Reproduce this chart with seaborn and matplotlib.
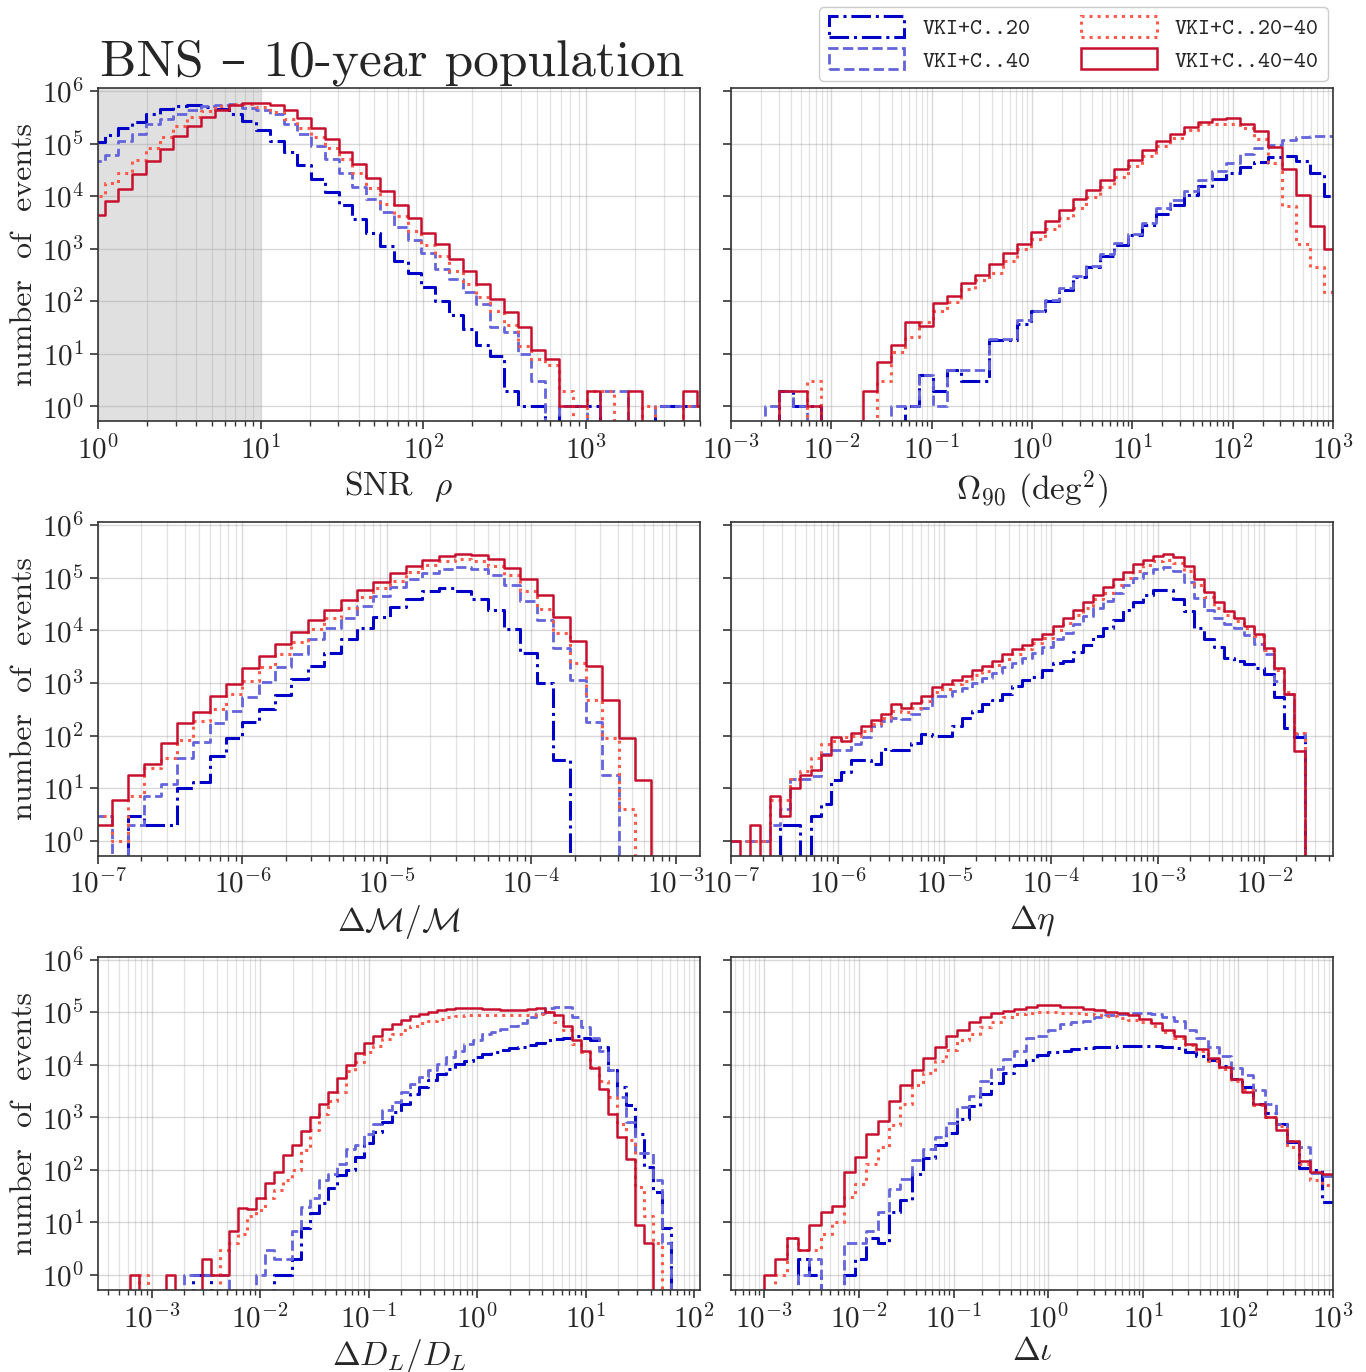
import numpy as np
import matplotlib
matplotlib.use("Agg")
import matplotlib.pyplot as plt
import matplotlib.patches as mpatches
from matplotlib.ticker import LogLocator, NullLocator, NullFormatter
import seaborn as sns

# ---------------------------------------------------------------------------
# data: counts per log-spaced bin
# bin ranges are given as (log10 low edge, log10 high edge, number of bins)
# ---------------------------------------------------------------------------
labels = ["VKI+C..20", "VKI+C..40", "VKI+C..20-40", "VKI+C..40-40"]
colors = ["#0000c8", "#6464dc", "#ff5a4a", "#c8102e"]
styles = ["-.", "--", ":", "-"]
widths = [2.2, 2.0, 2.2, 1.8]

# SNR
snr_bins = (-0.0436, 3.7634, 45)
snr_20 = [105000, 145000, 200000, 260000, 360000, 450000, 520000, 540000, 500000, 450000,
          360000, 270000, 180000, 112000, 68000, 39000, 21000, 11700, 6900, 3600,
          2000, 1100, 590, 340, 186, 102, 54, 30, 15, 9,
          2, 1, 1, 0, 1, 1, 1, 0, 0, 0, 0, 1, 1, 1, 1]
snr_40 = [47000, 60000, 112000, 150000, 230000, 290000, 360000, 430000, 510000, 540000,
          560000, 480000, 430000, 360000, 240000, 150000, 91000, 50000, 27500, 15000,
          8700, 4900, 2600, 1450, 830, 410, 260, 150, 89, 32,
          26, 10, 3, 0, 1, 1, 0, 2, 2, 0, 0, 1, 1, 1, 1]
snr_2040 = [10000, 18000, 28000, 48000, 83000, 135000, 214000, 316000, 420000, 510000,
            560000, 560000, 500000, 400000, 295000, 200000, 132000, 83000, 50000, 28000,
            14000, 7100, 4100, 2200, 1150, 710, 380, 210, 120, 66,
            35, 14, 8, 6, 2, 0, 2, 2, 0, 0, 1, 0, 0, 1, 1]
snr_4040 = [4400, 8100, 13800, 26000, 46000, 79000, 138000, 220000, 320000, 430000,
            540000, 590000, 590000, 540000, 430000, 310000, 200000, 120000, 69000, 41000,
            22000, 12300, 6900, 3900, 2000, 1200, 630, 370, 210, 110,
            62, 32, 12, 8, 1, 1, 2, 0, 0, 2, 0, 0, 0, 2, 1]

# sky localisation Omega_90
omega_bins = (-3.073, 3.047, 44)
omega_20 = [0, 0, 0, 0, 2, 1, 1, 0, 0, 0,
            0, 0, 0, 1, 4, 2, 5, 3, 3, 18,
            18, 37, 66, 100, 160, 285, 440, 730, 1180, 1800,
            2800, 4500, 6700, 10700, 15500, 21500, 28000, 35000, 45000, 55000,
            57000, 47000, 28000, 10000]
omega_40 = [0, 0, 0, 1, 2, 1, 0, 0, 0, 0,
            0, 0, 1, 1, 4, 1, 5, 5, 5, 19,
            19, 43, 66, 105, 180, 300, 470, 780, 1300, 1900,
            3100, 6000, 8300, 12400, 20000, 30000, 43000, 62000, 82000, 95000,
            118000, 132000, 140000, 140000]
omega_2040 = [0, 0, 0, 0, 0, 0, 3, 0, 0, 0,
              0, 3, 11, 21, 40, 66, 95, 170, 250, 350,
              590, 980, 1500, 2400, 3900, 6000, 9500, 14800, 23000, 37000,
              57000, 89000, 130000, 180000, 230000, 230000, 230000, 200000, 120000, 43000,
              6500, 1200, 440, 147]
omega_4040 = [0, 0, 0, 0, 2, 2, 1, 0, 0, 0,
              2, 7, 15, 40, 34, 91, 127, 218, 314, 520,
              815, 1250, 2080, 3300, 5400, 8700, 13200, 20600, 33000, 49000,
              74000, 110000, 155000, 210000, 260000, 290000, 300000, 240000, 170000, 85000,
              33000, 10400, 2700, 970]

# chirp mass error
dm_bins = (-7.0193, -2.7163, 38)
dm_20 = [0, 0, 3, 2, 2, 10, 13, 41, 91, 185,
         315, 590, 1170, 2100, 3800, 6800, 11200, 17800, 28000, 40000,
         56000, 63000, 56000, 40000, 24000, 10500, 3800, 990, 35, 0,
         0, 0, 0, 0, 0, 0, 0, 0]
dm_40 = [3, 0, 2, 7, 12, 37, 77, 170, 295, 540,
         1060, 2040, 3600, 6800, 11000, 17400, 29000, 45000, 66000, 93000,
         124000, 150000, 160000, 150000, 115000, 73000, 36000, 15500, 4700, 1120,
         185, 18, 0, 0, 0, 0, 0, 0]
dm_2040 = [3, 1, 7, 24, 37, 84, 190, 315, 610, 1090,
           2000, 3600, 6000, 10700, 17400, 27000, 43000, 63000, 89000, 128000,
           174000, 210000, 224000, 210000, 170000, 115000, 56000, 26000, 8900, 2450,
           475, 91, 4, 0, 0, 0, 0, 0]
dm_4040 = [2, 6, 18, 29, 71, 170, 280, 565, 970, 1900,
           3200, 5600, 9400, 15800, 24000, 38000, 58000, 84000, 123000, 170000,
           220000, 260000, 290000, 275000, 225000, 155000, 93000, 47000, 18200, 6300,
           2100, 475, 89, 14, 0, 0, 0, 0]

# symmetric mass ratio error (last bin is empty)
eta_bins = (-7.0095, -1.5285, 58)
eta_20 = [0, 0, 0, 0, 0, 2, 2, 0, 3, 5,
          14, 20, 35, 35, 29, 55, 52, 52, 73, 108,
          99, 99, 152, 220, 295, 390, 470, 630, 870, 1120,
          1300, 1740, 2450, 2600, 3900, 5300, 7800, 11000, 16000, 24000,
          34000, 47000, 59000, 60000, 40000, 23000, 11000, 6800, 4800, 3000,
          2600, 2250, 1950, 1500, 530, 140, 92, 0]
eta_40 = [1, 1, 1, 1, 2, 4, 15, 15, 17, 44,
          52, 52, 69, 92, 152, 190, 220, 205, 255, 340,
          565, 565, 710, 815, 1000, 1260, 1580, 2000, 2450, 3000,
          3800, 4800, 6800, 9100, 13500, 18600, 27000, 37000, 52000, 73000,
          100000, 124000, 150000, 160000, 134000, 84000, 42000, 24000, 17000, 13500,
          11200, 8300, 5400, 3600, 1090, 630, 107, 0]
eta_2040 = [1, 1, 1, 1, 6, 6, 15, 21, 38, 69,
            79, 92, 99, 122, 165, 220, 295, 275, 340, 445,
            660, 760, 940, 1090, 1420, 1700, 2200, 2800, 3500, 4350,
            5850, 7300, 10000, 14000, 20000, 27000, 39000, 52000, 73000, 100000,
            134000, 174000, 210000, 220000, 190000, 134000, 74000, 43000, 27000, 19500,
            15000, 11200, 7800, 4150, 1740, 660, 110, 0]
eta_4040 = [1, 0, 2, 0, 7, 3, 10, 18, 22, 42,
            92, 79, 114, 152, 195, 255, 390, 340, 425, 565,
            850, 940, 1120, 1350, 1740, 2100, 2600, 3500, 4350, 5200,
            7000, 8700, 12000, 17400, 24000, 34000, 48000, 66000, 93000, 128000,
            180000, 220000, 265000, 290000, 245000, 166000, 93000, 54000, 34000, 23000,
            17000, 12000, 8700, 4550, 1900, 610, 51, 0]

# luminosity distance error
dl_bins = (-3.535, 2.0394, 67)
dl_20 = [0, 0, 0, 0, 0, 0, 0, 0, 0, 0,
         0, 1, 1, 0, 0, 0, 0, 0, 0, 0,
         1, 1, 2, 8, 15, 23, 46, 79, 98, 177,
         325, 525, 815, 1260, 1820, 2750, 3800, 5200, 6800, 8300,
         10500, 12000, 14000, 15800, 17400, 19000, 21000, 22000, 24000, 26000,
         29000, 31000, 32000, 34500, 32000, 30000, 22000, 8100, 3800, 1700,
         490, 114, 38, 8, 0, 0, 0]
dl_40 = [0, 0, 0, 0, 0, 0, 0, 0, 0, 0,
         1, 1, 1, 1, 1, 0, 0, 0, 1, 3,
         2, 2, 7, 20, 29, 63, 83, 132, 245, 295,
         490, 760, 1350, 1950, 3000, 4350, 5850, 8100, 10500, 14000,
         18600, 25000, 30000, 38000, 42000, 48000, 54000, 62000, 81000, 96000,
         120000, 128000, 124000, 81000, 52000, 32000, 18600, 7800, 2450, 815,
         205, 210, 63, 4, 0, 0, 0]
dl_2040 = [0, 0, 0, 0, 0, 1, 0, 0, 0, 0,
           0, 0, 0, 0, 3, 4, 6, 13, 17, 29,
           41, 63, 98, 235, 565, 1170, 2040, 3000, 7500, 11500,
           17400, 23000, 31000, 38000, 45000, 54000, 62000, 69000, 74000, 81000,
           84000, 87000, 87000, 87000, 87000, 87000, 87000, 87000, 87000, 92000,
           99000, 65000, 45000, 25000, 17400, 9100, 5000, 2450, 760, 365,
           48, 13, 4, 0, 0, 0, 0]
dl_4040 = [0, 0, 0, 0, 1, 0, 0, 0, 1, 0,
           0, 0, 2, 1, 1, 7, 19, 18, 29, 57,
           91, 190, 295, 550, 1020, 1820, 3000, 5600, 9800, 16600,
           26000, 36000, 48000, 60000, 71000, 83000, 93000, 102000, 110000, 115000,
           120000, 120000, 120000, 115000, 113000, 110000, 110000, 112000, 115000, 118000,
           99000, 87000, 54000, 29000, 18600, 8700, 3400, 1150, 425, 158,
           9, 4, 0, 0, 0, 0, 0]

# inclination error (first bin is empty)
iota_bins = (-3.12, 3.0, 51)
iota_20 = [0, 0, 0, 0, 2, 1, 0, 0, 1, 2, 5,
           4, 16, 27, 83, 165, 295, 505, 940, 1620, 2800,
           4500, 6900, 9800, 12400, 15000, 17400, 18600, 20000, 21000, 22000,
           22000, 22500, 22500, 22500, 22500, 22000, 21000, 17400, 14400, 12400,
           9300, 5400, 3800, 1770, 1200, 740, 340, 107, 98, 25]
iota_40 = [0, 0, 0, 0, 1, 2, 0, 0, 4, 4, 7,
           16, 44, 66, 152, 245, 425, 780, 1580, 2570, 5000,
           8300, 13000, 18600, 32000, 34500, 46000, 59000, 65000, 69000, 81000,
           87000, 93000, 96000, 96000, 93000, 81000, 68000, 45000, 32000, 22000,
           14400, 8700, 6300, 3250, 1770, 760, 355, 275, 88, 76]
iota_2040 = [0, 0, 1, 5, 3, 3, 6, 10, 31, 55, 132,
             275, 710, 1820, 4050, 6900, 12000, 19000, 30000, 39000, 52000,
             65000, 81000, 91000, 96000, 100000, 100000, 96000, 96000, 93000, 87000,
             84000, 77000, 71000, 65000, 54000, 42000, 32000, 24000, 18600, 12000,
             8300, 5000, 3250, 1700, 1020, 675, 275, 132, 63, 51]
iota_4040 = [0, 1, 2, 5, 3, 9, 16, 21, 91, 177, 475,
             850, 2040, 4050, 7800, 13500, 22000, 34500, 46000, 65000, 81000,
             96000, 107000, 115000, 128000, 134000, 134000, 128000, 124000, 115000, 110000,
             102000, 96000, 87000, 74000, 62000, 45000, 36000, 25000, 20000, 13500,
             9100, 5400, 3000, 1770, 1020, 565, 355, 148, 91, 85]

# ---------------------------------------------------------------------------
# style
# ---------------------------------------------------------------------------
sns.set_style("ticks")
plt.rcParams.update({
    "font.family": "serif",
    "font.serif": ["cmr10", "DejaVu Serif"],
    "mathtext.fontset": "cm",
    "axes.formatter.use_mathtext": True,
    "axes.unicode_minus": False,
    "axes.edgecolor": "#333333",
    "axes.linewidth": 1.2,
})

fig, axes = plt.subplots(3, 2, figsize=(13.66, 13.72), dpi=100)
fig.subplots_adjust(left=0.0717, right=0.9758, bottom=0.0598, top=0.9359,
                    wspace=0.0515, hspace=0.303)


def draw_panel(ax, bins, series, xlim, xlabel):
    lo, hi, nb = bins
    edges = np.linspace(lo, hi, nb + 1)
    centers = 10 ** ((edges[:-1] + edges[1:]) / 2)
    ax.set_xscale("log")
    ax.set_yscale("log")
    for counts, col, ls, lw in zip(series, colors, styles, widths):
        sns.histplot(x=centers, weights=np.asarray(counts, float), bins=nb,
                     binrange=(lo, hi), element="step", fill=False,
                     color=col, linestyle=ls, linewidth=lw, ax=ax)
    ax.set_xlim(*xlim)
    ax.set_ylim(0.52, 1.14e6)
    ax.xaxis.set_major_locator(LogLocator(base=10, numticks=30))
    ax.xaxis.set_minor_locator(LogLocator(base=10, subs=np.arange(2, 10), numticks=300))
    ax.xaxis.set_minor_formatter(NullFormatter())
    ax.yaxis.set_major_locator(LogLocator(base=10, numticks=30))
    ax.yaxis.set_minor_locator(NullLocator())
    ax.grid(which="major", color="#a0a0a0", alpha=0.4, lw=1.0)
    ax.grid(which="minor", axis="x", color="#a0a0a0", alpha=0.3, lw=0.9)
    ax.tick_params(which="major", direction="out", length=6, width=1.2,
                   labelsize=21, color="#333333", pad=4)
    ax.tick_params(which="minor", direction="out", length=3.5, width=1.0,
                   color="#333333")
    ax.set_xlabel(xlabel, fontsize=24, labelpad=3)
    ax.set_ylabel("")


panels = [
    (axes[0, 0], snr_bins, [snr_20, snr_40, snr_2040, snr_4040], (1, 5000), r"SNR  $\rho$"),
    (axes[0, 1], omega_bins, [omega_20, omega_40, omega_2040, omega_4040], (1e-3, 1e3),
     r"$\Omega_{90}$ (deg$^2$)"),
    (axes[1, 0], dm_bins, [dm_20, dm_40, dm_2040, dm_4040], (1e-7, 1.47e-3),
     r"$\Delta\mathcal{M}/\mathcal{M}$"),
    (axes[1, 1], eta_bins, [eta_20, eta_40, eta_2040, eta_4040], (1e-7, 4.4e-2),
     r"$\Delta\eta$"),
    (axes[2, 0], dl_bins, [dl_20, dl_40, dl_2040, dl_4040], (3.2e-4, 113),
     r"$\Delta D_L/D_L$"),
    (axes[2, 1], iota_bins, [iota_20, iota_40, iota_2040, iota_4040], (4.5e-4, 1e3),
     r"$\Delta\iota$"),
]

for ax, bins, series, xlim, xlabel in panels:
    draw_panel(ax, bins, series, xlim, xlabel)

# grey band for SNR below threshold
axes[0, 0].axvspan(1, 10, color="#e0e0e0", lw=0, zorder=0)

for row in range(3):
    axes[row, 0].set_ylabel("number  of  events", fontsize=23, labelpad=3)
    axes[row, 1].tick_params(labelleft=False)

fig.text(100 / 1366, 1 - 76 / 1372, "BNS – 10-year population", fontsize=37,
         va="baseline", ha="left", family=["cmr10", "DejaVu Serif"])

handles = [mpatches.Patch(facecolor="none", edgecolor=c, linestyle=s, linewidth=w, label=l)
           for l, c, s, w in zip(labels, colors, styles, widths)]
fig.legend(handles=handles, loc="upper right", bbox_to_anchor=(1328 / 1366, 1 - 7 / 1372),
           borderaxespad=0.0, ncol=2, prop={"family": "cmtt10", "size": 16.5},
           handlelength=3.3, handleheight=1.0, columnspacing=2.2, labelspacing=0.4,
           borderpad=0.4, frameon=True, fancybox=True, edgecolor="#cccccc",
           framealpha=1.0)

fig.savefig("out.png", dpi=100)
